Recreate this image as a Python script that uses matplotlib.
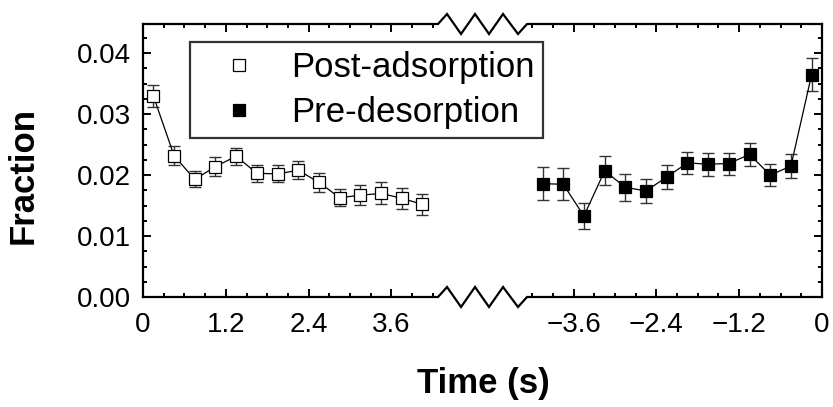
import numpy as np
import matplotlib
matplotlib.use('Agg')
import matplotlib.pyplot as plt
from matplotlib.ticker import FixedLocator, MultipleLocator

plt.rcParams['font.family'] = ['Liberation Sans', 'DejaVu Sans']

# post-adsorption (time after adsorption, s)
t_post = [0.15, 0.45, 0.75, 1.05, 1.35, 1.65, 1.95, 2.25, 2.55, 2.85, 3.15, 3.45, 3.75, 4.05]
f_post = [0.0330, 0.0232, 0.0193, 0.0214, 0.0231, 0.0203, 0.0202, 0.0208, 0.0188,
          0.0163, 0.0167, 0.0170, 0.0162, 0.0152]
e_post = [0.0018, 0.0015, 0.0013, 0.0015, 0.0014, 0.0014, 0.0014, 0.0015, 0.0015,
          0.0014, 0.0016, 0.0018, 0.0017, 0.0017]

# pre-desorption (time before desorption, s)
t_pre = [-4.05, -3.75, -3.45, -3.15, -2.85, -2.55, -2.25, -1.95, -1.65, -1.35, -1.05, -0.75, -0.45, -0.15]
f_pre = [0.0186, 0.0185, 0.0133, 0.0207, 0.0180, 0.0174, 0.0197, 0.0220, 0.0218,
         0.0219, 0.0234, 0.0200, 0.0215, 0.0365]
e_pre = [0.0027, 0.0026, 0.0021, 0.0024, 0.0022, 0.0020, 0.0019, 0.0018, 0.0019,
         0.0018, 0.0019, 0.0018, 0.0020, 0.0027]

xt_left = [0, 1.2, 2.4, 3.6]
xt_right = [-3.6, -2.4, -1.2, 0]
xl_left = ['0', '1.2', '2.4', '3.6']
xl_right = ['\u22123.6', '\u22122.4', '\u22121.2', '0']

SHIFT = 9.84   # where t=0 of the pre-desorption part sits on the shared axis

fig = plt.figure(figsize=(8.33, 4.07), dpi=100)
ax = fig.add_axes([143/833, 110/407, 679/833, 273/407])

u_pre = np.array(t_pre) + SHIFT

ax.errorbar(t_post, f_post, yerr=e_post, color='black', lw=0.9, ecolor='#333333',
            elinewidth=1.0, capsize=4, capthick=1.0, zorder=2)
ax.errorbar(u_pre, f_pre, yerr=e_pre, color='black', lw=0.9, ecolor='#333333',
            elinewidth=1.0, capsize=4, capthick=1.0, zorder=2)
ax.plot(t_post, f_post, 's', ms=8, mfc='white', mec='black', mew=0.9,
        ls='none', label='Post-adsorption', zorder=3)
ax.plot(u_pre, f_pre, 's', ms=8, mfc='black', mec='black', mew=0.9,
        ls='none', label='Pre-desorption', zorder=3)

ax.set_xlim(0, SHIFT)
ax.set_ylim(0, 0.0448)

maj = xt_left + [v + SHIFT for v in xt_right]
ax.xaxis.set_major_locator(FixedLocator(maj))
ax.set_xticklabels(xl_left + xl_right)
minor = [0.3 * k for k in range(15)] + [SHIFT - 0.3 * k for k in range(15)]
ax.xaxis.set_minor_locator(FixedLocator(minor))
ax.yaxis.set_major_locator(MultipleLocator(0.01))
ax.yaxis.set_minor_locator(MultipleLocator(0.0025))
ax.yaxis.set_major_formatter(plt.FormatStrFormatter('%.2f'))

ax.tick_params(which='both', direction='in', top=True, right=True, width=1.4)
ax.tick_params(which='major', length=6, labelsize=20)
ax.tick_params(axis='x', which='major', pad=11)
ax.tick_params(axis='y', which='major', pad=9)
ax.tick_params(which='minor', length=3.2)

for s in ['left', 'right']:
    ax.spines[s].set_linewidth(1.6)
ax.spines['top'].set_visible(False)
ax.spines['bottom'].set_visible(False)

# top / bottom frame with zigzag break
zx = [(p - 143) / 69 for p in [438, 447, 461, 475, 489, 503, 518, 527]]
zd = np.array([0, 1, -1, 1, -1, 1, -1, 0]) * (10 / 273)
tr = ax.get_xaxis_transform()
for y0 in (0, 1):
    xs = [0] + zx + [SHIFT]
    ys = [y0] + list(y0 + zd) + [y0]
    ax.plot(xs, ys, color='black', lw=1.6, transform=tr, clip_on=False,
            solid_joinstyle='miter', zorder=5)

leg = ax.legend(loc='upper left', bbox_to_anchor=(190/833, 1 - 42/407),
                bbox_transform=fig.transFigure, borderaxespad=0, fontsize=25,
                frameon=True, fancybox=False, edgecolor='black', numpoints=1,
                borderpad=0.25, handlelength=2.3, handletextpad=0.35, labelspacing=0.36)
leg.get_frame().set_linewidth(1.6)

fig.text(23/833, 1 - 176/407, 'Fraction', rotation=90, ha='center', va='center',
         fontsize=25, fontweight='bold')
fig.text(483/833, 1 - 383/407, 'Time (s)', ha='center', va='center',
         fontsize=25, fontweight='bold')

fig.savefig('out.png', dpi=100)
